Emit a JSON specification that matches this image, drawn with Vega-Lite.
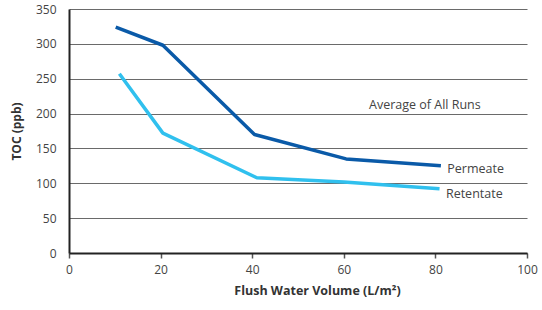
{
  "$schema": "https://vega.github.io/schema/vega-lite/v6.json",
  "width": 458,
  "height": 244,
  "autosize": {"type": "none"},
  "padding": {"left": 69, "top": 9, "right": 15, "bottom": 57},
  "background": "white",
  "config": {
    "view": {"stroke": null},
    "font": "Open Sans"
  },
  "datasets": {
    "lines": [
      {"series": "Permeate", "volume": 10.2, "toc": 324},
      {"series": "Permeate", "volume": 20.5, "toc": 298},
      {"series": "Permeate", "volume": 40.5, "toc": 170},
      {"series": "Permeate", "volume": 60.5, "toc": 135},
      {"series": "Permeate", "volume": 81.2, "toc": 125},
      {"series": "Retentate", "volume": 11, "toc": 257},
      {"series": "Retentate", "volume": 20.5, "toc": 172},
      {"series": "Retentate", "volume": 41, "toc": 108},
      {"series": "Retentate", "volume": 60, "toc": 102},
      {"series": "Retentate", "volume": 80.9, "toc": 92}
    ],
    "seriesLabels": [
      {"label": "Permeate", "volume": 82.6, "toc": 120},
      {"label": "Retentate", "volume": 82.3, "toc": 85}
    ],
    "note": [
      {"label": "Average of All Runs", "volume": 77.7, "toc": 212}
    ]
  },
  "encoding": {
    "x": {
      "field": "volume", "type": "quantitative",
      "scale": {"domain": [0, 100], "nice": false},
      "axis": {
        "values": [0, 20, 40, 60, 80, 100],
        "grid": false, "labelOverlap": false, "labelFlush": false,
        "domainColor": "#222", "domainWidth": 2,
        "tickColor": "#555", "tickSize": 5, "tickWidth": 1.5,
        "labelFontSize": 12, "labelColor": "#444", "labelPadding": 6,
        "title": "Flush Water Volume (L/m²)",
        "titleX": 248, "titleAlign": "center",
        "titleFontSize": 12.5, "titleFontWeight": "bold", "titleColor": "#333", "titlePadding": 9
      }
    },
    "y": {
      "field": "toc", "type": "quantitative",
      "scale": {"domain": [0, 350], "nice": false},
      "axis": {
        "values": [0, 50, 100, 150, 200, 250, 300, 350],
        "grid": true, "gridColor": "#6a6a6a", "gridWidth": 1.2,
        "labelOverlap": false, "labelFlush": false,
        "domainColor": "#222", "domainWidth": 2,
        "ticks": false,
        "labelFontSize": 12, "labelColor": "#444", "labelPadding": 13,
        "title": "TOC (ppb)",
        "titleFontSize": 12, "titleFontWeight": "bold", "titleColor": "#333", "titlePadding": 12
      }
    }
  },
  "layer": [
    {
      "data": {"name": "lines"},
      "mark": {"type": "line", "strokeWidth": 3.5, "strokeJoin": "round"},
      "encoding": {
        "color": {
          "field": "series", "type": "nominal",
          "scale": {"domain": ["Permeate", "Retentate"], "range": ["#0a5aa8", "#30c0ee"]},
          "legend": null
        }
      }
    },
    {
      "data": {"name": "seriesLabels"},
      "mark": {"type": "text", "fontSize": 12.5, "color": "#444", "baseline": "middle", "align": "left"},
      "encoding": {
        "text": {"field": "label"}
      }
    },
    {
      "data": {"name": "note"},
      "mark": {"type": "text", "fontSize": 12.5, "color": "#444", "baseline": "middle", "align": "center"},
      "encoding": {
        "text": {"field": "label"}
      }
    }
  ]
}
